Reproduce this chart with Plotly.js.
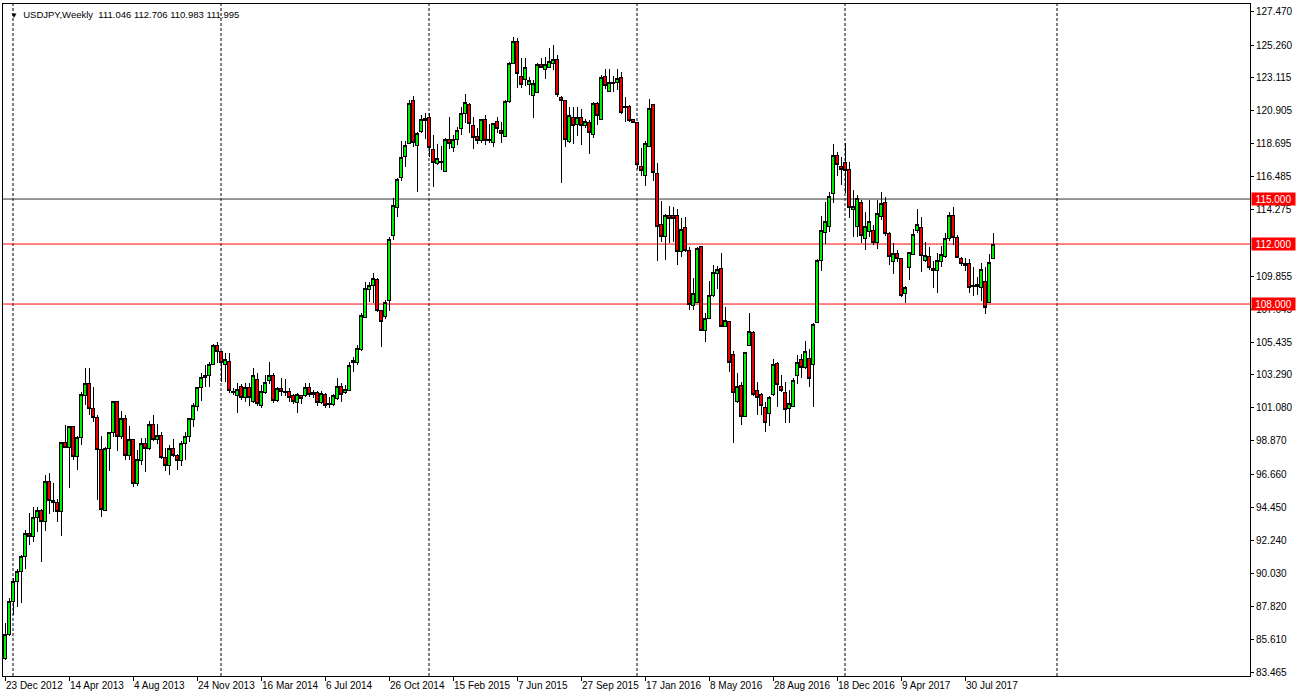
<!DOCTYPE html>
<html><head><meta charset="utf-8">
<script src="https://cdn.plot.ly/plotly-3.0.1.min.js"></script>
<style>html,body{margin:0;padding:0;background:#fff;overflow:hidden;} #chart{width:1296px;height:698px;}
.js-plotly-plot .boxlayer path{shape-rendering:crispEdges;}</style>
</head><body><div id="chart"></div>
<script>
// ---------------- DATA ----------------
const symbol = "USDJPY";
const timeframe = "Weekly";
const firstBarDate = "2012-12-23"; // weekly bars, one per week from here

const openP = [
84.38,85.94,88.16,89.49,90.16,91.16,92.71,92.49,93.78,94.27,
93.49,96.16,94.92,94.80,94.20,98.76,98.45,99.83,97.83,99.11,
101.89,102.71,101.05,100.45,98.31,94.27,98.38,99.45,101.49,99.16,
100.38,97.87,98.94,96.05,97.60,98.71,98.34,99.98,98.98,99.25,
97.78,97.23,98.34,97.89,97.56,98.71,99.20,100.31,101.20,102.45,
103.11,103.27,104.00,105.25,104.83,103.94,104.20,102.20,101.89,102.53,
101.76,102.45,101.49,102.98,101.23,102.09,102.89,103.25,101.56,102.38,
102.20,102.14,101.87,101.45,101.87,101.87,102.45,102.09,102.09,101.43,
101.98,101.38,101.29,101.72,102.49,102.09,102.27,104.27,104.09,104.98,
107.12,108.98,109.25,109.65,107.56,107.16,108.27,112.58,114.43,116.43,
117.83,118.72,121.54,118.56,119.50,120.23,120.45,118.27,117.38,117.53,
116.85,118.98,118.45,118.98,119.67,120.71,121.31,119.87,119.20,118.87,
120.27,118.98,118.78,120.20,119.60,119.16,121.49,124.05,125.49,123.16,
122.94,122.65,121.87,122.12,124.00,123.65,123.78,124.05,124.27,121.78,
121.56,118.82,120.44,119.98,120.44,119.89,120.11,119.33,121.38,120.31,
123.20,122.16,122.78,122.76,123.11,121.20,121.20,120.27,120.13,117.16,
116.60,118.53,121.27,116.71,113.31,112.49,113.93,113.89,113.93,111.49,
113.11,111.60,107.89,108.09,111.82,106.22,107.04,108.56,110.04,110.40,
106.49,106.82,104.64,101.49,102.60,100.53,105.27,106.11,102.27,101.98,
101.09,100.71,101.98,104.04,102.49,102.11,101.04,101.20,103.22,104.33,
103.78,104.38,103.98,106.78,110.89,112.76,113.16,115.38,117.93,117.20,
117.44,116.98,114.31,113.16,114.76,112.38,112.82,112.87,112.11,113.82,
114.76,112.67,110.82,111.38,111.04,108.71,110.44,111.31,112.93,113.11,
110.93,111.16,110.36,110.22,110.82,111.16,112.38,113.87,112.44,111.04,
110.71,110.67,109.22,109.20,109.11,109.49,108.11,111.046];

const highP = [
86.71,88.38,89.71,90.31,91.27,92.94,94.05,94.49,94.49,94.31,
96.60,96.71,96.09,94.98,98.83,99.94,99.89,99.87,99.20,102.16,
103.71,103.71,102.50,100.60,99.20,98.49,99.49,101.56,101.56,100.87,
100.60,99.90,99.00,98.30,99.10,99.10,100.20,100.60,100.00,99.50,
98.40,98.60,99.00,98.00,98.90,99.50,100.40,101.40,102.50,103.38,
103.94,104.16,105.34,105.44,104.90,104.76,104.76,102.38,102.71,102.67,
102.71,102.76,103.72,103.42,102.60,103.27,104.14,103.38,102.50,103.05,
102.98,102.40,101.98,102.05,101.94,102.76,102.71,102.30,102.23,102.20,
102.05,101.83,102.00,103.09,102.71,102.60,104.16,104.49,105.27,107.38,
109.45,109.50,110.09,109.72,107.60,108.27,112.50,115.05,116.40,118.90,
118.90,121.60,121.85,119.50,120.60,120.72,120.72,119.27,118.70,118.56,
119.05,120.45,119.27,119.82,121.11,122.00,121.42,120.45,119.76,120.31,
120.60,119.98,120.09,120.45,120.16,121.60,124.16,125.78,125.71,124.38,
124.38,123.16,122.94,124.09,124.42,124.49,125.05,125.27,124.60,121.87,
121.60,121.16,121.16,121.16,120.98,120.31,120.27,121.49,121.49,123.27,
123.64,123.64,123.20,123.64,123.49,121.82,121.27,120.31,120.16,118.38,
118.87,121.64,121.33,117.42,114.87,114.00,114.56,114.49,114.33,113.71,
113.82,111.78,109.71,111.82,111.87,107.42,109.53,110.60,110.53,111.38,
107.82,106.87,104.90,103.38,102.82,104.82,107.42,106.18,102.78,102.04,
101.49,101.89,104.31,104.16,103.27,102.78,102.27,103.04,104.60,104.67,
105.53,104.98,106.76,110.98,113.87,114.82,115.49,118.67,118.16,117.82,
118.76,117.49,115.60,115.26,114.93,114.16,114.93,113.27,114.93,115.49,
115.16,112.82,112.04,111.60,111.04,109.20,111.49,112.98,114.33,113.82,
112.16,111.82,110.87,111.38,111.87,112.71,114.16,114.49,112.60,111.16,
111.04,110.98,110.49,109.82,110.71,110.44,111.33,112.706];

const lowP = [
84.27,85.87,87.27,87.78,88.05,90.31,91.94,92.16,92.83,90.83,
92.87,94.00,94.16,93.45,92.54,98.38,95.71,97.60,96.94,98.60,
101.27,100.60,100.16,94.94,93.78,94.23,96.89,99.16,98.23,99.00,
97.60,97.60,95.80,95.90,97.30,96.80,98.30,98.90,98.70,97.70,
96.90,96.60,97.80,96.95,97.20,97.60,98.80,99.80,100.90,101.56,
102.45,102.45,103.94,104.05,102.83,102.83,102.05,101.94,100.71,101.60,
101.50,101.20,101.40,101.20,101.10,101.98,102.70,101.40,101.50,101.90,
101.90,101.45,101.33,100.76,101.33,101.80,101.80,101.75,101.20,101.33,
101.05,101.05,101.20,101.60,101.49,102.00,102.20,103.50,103.95,104.90,
107.05,108.16,108.05,107.50,105.16,107.00,107.56,112.30,113.83,116.20,
117.16,118.67,118.50,115.50,119.40,119.00,117.83,115.78,117.27,116.93,
116.78,118.31,118.16,118.60,119.27,120.05,119.38,118.31,118.65,118.71,
118.60,118.71,118.49,119.38,118.76,119.16,121.42,124.00,122.38,122.38,
122.54,121.94,120.38,122.05,123.72,122.98,123.72,123.60,121.83,116.05,
118.49,118.76,118.64,119.20,118.60,119.71,118.00,119.09,119.93,120.27,
122.33,122.11,122.16,122.27,120.67,120.16,120.16,120.04,117.00,116.53,
115.87,118.44,116.22,110.89,112.16,110.93,112.09,112.16,110.60,111.16,
111.49,107.60,107.60,108.09,106.18,105.49,107.00,108.44,108.98,106.44,
106.44,103.49,98.76,101.38,99.93,100.44,105.20,101.89,100.60,100.60,
99.49,99.89,101.87,101.16,102.11,100.04,100.09,101.20,102.67,103.04,
103.67,102.49,101.16,106.71,110.22,111.98,112.82,114.71,116.56,115.93,
115.40,113.71,112.49,112.49,112.04,111.60,112.49,111.93,111.64,113.60,
112.53,110.60,110.00,110.82,108.49,108.09,109.60,111.27,112.71,110.16,
110.82,110.27,109.04,108.76,110.49,111.09,112.22,111.93,111.04,110.53,
110.20,108.71,108.53,108.60,108.22,107.31,108.09,110.983];

const closeP = [
86.00,88.16,89.49,90.20,91.20,92.71,92.49,93.78,94.27,93.49,
96.16,94.89,94.80,94.20,98.76,98.45,99.83,97.83,99.11,101.94,
102.71,101.05,100.45,98.31,94.31,98.38,99.45,101.49,99.16,100.38,
97.87,98.94,96.05,97.65,98.71,98.38,99.98,98.98,99.25,97.78,
97.23,98.34,97.89,97.56,98.71,99.20,100.34,101.27,102.45,103.11,
103.27,104.00,105.25,104.83,104.09,104.31,102.22,102.11,102.31,101.76,
102.45,101.76,103.23,101.34,102.18,102.78,103.25,101.60,102.38,102.16,
102.09,101.76,101.49,101.94,101.69,102.45,101.98,101.98,101.43,102.05,
101.27,101.29,101.87,102.49,102.00,102.31,103.87,104.09,105.05,107.27,
109.05,109.27,109.72,107.56,106.83,108.12,112.27,114.60,116.27,117.78,
118.60,121.38,118.76,119.38,120.32,120.38,118.43,117.45,117.71,117.42,
119.00,118.71,119.00,119.54,120.71,121.42,120.05,119.09,118.89,120.27,
118.87,118.89,120.05,119.67,119.38,121.49,124.05,125.49,123.38,122.65,
123.76,122.87,122.71,123.98,123.76,123.94,124.20,124.27,121.98,121.54,
118.98,120.60,119.89,120.44,119.87,120.18,119.44,121.38,120.56,123.11,
122.56,122.78,122.67,123.04,120.76,121.09,120.22,120.13,117.33,116.89,
118.71,121.04,116.76,113.16,112.49,113.93,113.71,113.71,111.49,113.00,
111.56,108.00,108.71,111.71,106.22,107.04,108.60,110.11,110.27,106.49,
106.87,104.11,102.11,102.53,100.49,104.80,106.18,102.00,101.78,101.24,
100.11,101.78,103.98,102.64,102.22,100.98,101.38,102.93,104.11,103.78,
104.82,103.04,106.64,110.87,112.93,113.53,115.20,117.93,117.31,116.98,
116.89,114.44,114.53,115.04,112.56,113.20,113.53,112.11,114.04,114.71,
112.67,111.16,111.38,111.04,108.56,109.11,111.44,112.64,113.31,111.22,
111.22,110.44,110.22,110.87,111.27,112.38,113.87,112.44,111.11,110.71,
110.60,109.11,109.16,109.33,110.27,107.78,110.78,111.995];

// date-axis tick labels (dates of labelled bars)
const tickDates = ["2012-12-23","2013-04-14","2013-08-04","2013-11-24","2014-03-16","2014-07-06",
  "2014-10-26","2015-02-15","2015-06-07","2015-09-27","2016-01-17","2016-05-08",
  "2016-08-28","2016-12-18","2017-04-09","2017-07-30"];
// price-scale labels
const priceTicks = ["127.470","125.260","123.115","120.905","118.695","116.485","114.275",
  "109.855","107.645","105.435","103.290","101.080","98.870","96.660","94.450",
  "92.240","90.030","87.820","85.610","83.465"];
// horizontal levels
const levels = [115, 112, 108];

// ---------------- BUILD ----------------
const DAY = 86400000;
const t0 = Date.parse(firstBarDate + "T00:00:00Z");
const iso = ms => new Date(ms).toISOString().slice(0, 19).replace("T", " ");
const barDates = openP.map((_, i) => iso(t0 + i * 7 * DAY));

const MONTHS = ["Jan","Feb","Mar","Apr","May","Jun","Jul","Aug","Sep","Oct","Nov","Dec"];
const fmtDate = s => { const d = new Date(s + "T00:00:00Z");
  return d.getUTCDate() + " " + MONTHS[d.getUTCMonth()] + " " + d.getUTCFullYear(); };

// visible window (in bars): half a bar before the first bar, ~311 bars wide
const xStart = t0 - 0.5 * 7 * DAY;
const xEnd = t0 + 311.25 * 7 * DAY;

// yearly period separators: first weekly bar of each new year
const separators = [];
for (let k = 1; t0 + k * 7 * DAY < xEnd; k++) {
  const a = new Date(t0 + (k - 1) * 7 * DAY), b = new Date(t0 + k * 7 * DAY);
  if (b.getUTCFullYear() !== a.getUTCFullYear()) separators.push(iso(t0 + k * 7 * DAY));
}

const FONT = "Tahoma, 'Liberation Sans', Arial, sans-serif";

const shapes = [];
separators.forEach(d => shapes.push({type:"line", xref:"x", yref:"paper", x0:d, x1:d, y0:0, y1:1,
  line:{color:"#000", width:1, dash:"3px,2px"}, layer:"below"}));
const levelLineColor = {115:"#303030", 112:"#ff0000", 108:"#ff0000"};
levels.forEach(v => shapes.push({type:"line", xref:"paper", yref:"y", x0:0, x1:1, y0:v, y1:v,
  line:{color:levelLineColor[v], width:1}, layer:"below"}));

const annotations = [];
levels.forEach(v => annotations.push({xref:"paper", yref:"y", x:1, y:v, xanchor:"left", yanchor:"middle",
  xshift:1, text:v.toFixed(3), showarrow:false, bgcolor:"#ff0000", borderpad:0,
  width:43, height:12, align:"center", font:{family:FONT, size:10, color:"#ffffff"}}));
const n = openP.length - 1;
annotations.push({xref:"paper", yref:"paper", x:0, y:1, xanchor:"left", yanchor:"top", xshift:5, yshift:-3,
  showarrow:false, align:"left",
  text:"<span style='font-size:8px'>▼</span>\u00a0\u00a0" + symbol + "," + timeframe + "\u00a0\u00a0" +
    [openP[n], highP[n], lowP[n], closeP[n]].map(v => v.toFixed(3)).join("\u00a0"),
  font:{family:FONT, size:9.5, color:"#000"}});

const trace = {
  type:"candlestick", x:barDates, open:openP, high:highP, low:lowP, close:closeP,
  increasing:{line:{color:"#000", width:1}, fillcolor:"#00ee00"},
  decreasing:{line:{color:"#000", width:1}, fillcolor:"#ee0000"},
  whiskerwidth:0, hoverinfo:"none", showlegend:false
};

const layout = {
  width:1296, height:698,
  margin:{l:3, r:46, t:4, b:22, pad:0},
  paper_bgcolor:"#ffffff", plot_bgcolor:"#ffffff",
  showlegend:false,
  boxgap:0.25, boxgroupgap:0,
  xaxis:{type:"date", range:[iso(xStart), iso(xEnd)], showgrid:false, zeroline:false,
    showline:true, mirror:true, linecolor:"#000", linewidth:1,
    ticks:"outside", ticklen:4, tickcolor:"#000", tickwidth:1, tickangle:0,
    tickvals:tickDates.map(d => d + " 00:00:00"), ticktext:tickDates.map(fmtDate),
    ticklabelposition:"outside right",
    tickfont:{family:FONT, size:10, color:"#000"}, rangeslider:{visible:false}, fixedrange:true},
  yaxis:{side:"right", range:[83.203, 128.003], showgrid:false, zeroline:false,
    showline:true, mirror:true, linecolor:"#000", linewidth:1,
    ticks:"outside", ticklen:3, tickcolor:"#000", tickwidth:1,
    tickvals:priceTicks.map(Number), ticktext:priceTicks,
    tickfont:{family:FONT, size:10, color:"#000"}, fixedrange:true},
  shapes:shapes, annotations:annotations
};

Plotly.newPlot("chart", [trace], layout, {displayModeBar:false, staticPlot:true});
</script>
</body></html>
